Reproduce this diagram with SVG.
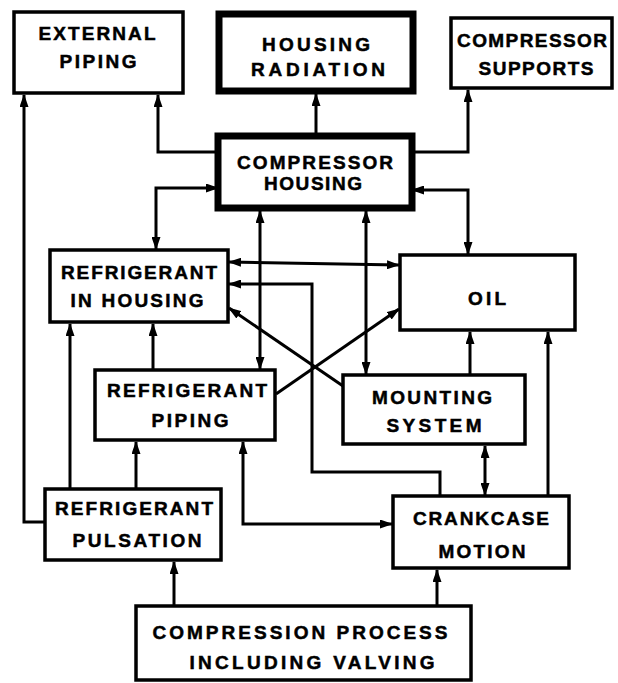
<svg xmlns="http://www.w3.org/2000/svg" width="618" height="683" viewBox="0 0 618 683">
<style>
.box{fill:#fff;stroke:#000;stroke-width:3.5}
.thick{fill:#fff;stroke:#000;stroke-width:7}
.t{font-family:"Liberation Sans",Arial,sans-serif;font-weight:bold;font-size:19px;text-anchor:middle;fill:#000;stroke:#000;stroke-width:0.5}
.c{fill:none;stroke:#000;stroke-width:3}
.e{marker-end:url(#ah)}
.s{marker-start:url(#ah)}
</style>
<defs>
<marker id="ah" viewBox="0 0 13 9" refX="12" refY="4.5" markerWidth="13" markerHeight="9" markerUnits="userSpaceOnUse" orient="auto-start-reverse">
<path d="M0,0 L13,4.5 L0,9 z" fill="#000"/>
</marker>
</defs>
<rect width="618" height="683" fill="#fff"/>
<g id="connectors">
<path class="c e" d="M218,152 H158 V95"/>
<path class="c e" d="M316,136 V94"/>
<path class="c e" d="M412,152 H468 V90"/>
<path class="c e s" d="M218,188 H156 V249"/>
<path class="c e s" d="M412,190 H468 V254"/>
<path class="c e s" d="M260,211 V369"/>
<path class="c e s" d="M366,211 V374"/>
<path class="c e s" d="M229,262 L399,265"/>
<path class="c s" d="M229,284 H312 V472 H440 V496"/>
<path class="c e" d="M343,386 L229,308"/>
<path class="c e" d="M276,394 L399,309"/>
<path class="c e" d="M153,370 V324"/>
<path class="c e" d="M70,488 V324"/>
<path class="c e" d="M136,488 V442"/>
<path class="c e" d="M45,522 H24 V95"/>
<path class="c e s" d="M243,442 V524 H392"/>
<path class="c e s" d="M485,446 V495"/>
<path class="c e" d="M470,375 V332"/>
<path class="c e" d="M548,496 V332"/>
<path class="c e" d="M174,606 V562"/>
<path class="c e" d="M437,606 V570"/>
</g>
<g id="external-piping">
<rect class="box" x="14" y="12" width="169" height="81"/>
<text class="t" x="97" y="39.5" textLength="117" lengthAdjust="spacing">EXTERNAL</text>
<text class="t" x="98" y="67.5" textLength="77" lengthAdjust="spacing">PIPING</text>
</g>
<g id="housing-radiation">
<rect class="thick" x="219" y="14" width="194" height="77"/>
<text class="t" x="316" y="50.5" textLength="108" lengthAdjust="spacing">HOUSING</text>
<text class="t" x="318" y="75.5" textLength="134" lengthAdjust="spacing">RADIATION</text>
</g>
<g id="compressor-supports">
<rect class="box" x="451" y="18" width="161" height="70"/>
<text class="t" x="532" y="47" textLength="150" lengthAdjust="spacing">COMPRESSOR</text>
<text class="t" x="536" y="74.5" textLength="115" lengthAdjust="spacing">SUPPORTS</text>
</g>
<g id="compressor-housing">
<rect class="thick" x="218" y="136" width="194" height="72"/>
<text class="t" x="315" y="168.5" textLength="156" lengthAdjust="spacing">COMPRESSOR</text>
<text class="t" x="313" y="189.5" textLength="98" lengthAdjust="spacing">HOUSING</text>
</g>
<g id="refrigerant-in-housing">
<rect class="box" x="50" y="250" width="178" height="72"/>
<text class="t" x="139" y="278.5" textLength="156" lengthAdjust="spacing">REFRIGERANT</text>
<text class="t" x="137" y="306.5" textLength="133" lengthAdjust="spacing">IN HOUSING</text>
</g>
<g id="oil">
<rect class="box" x="400" y="255" width="175" height="75"/>
<text class="t" x="487" y="305" textLength="38" lengthAdjust="spacing">OIL</text>
</g>
<g id="refrigerant-piping">
<rect class="box" x="95" y="370" width="180" height="70"/>
<text class="t" x="187" y="397" textLength="160" lengthAdjust="spacing">REFRIGERANT</text>
<text class="t" x="190" y="427" textLength="77" lengthAdjust="spacing">PIPING</text>
</g>
<g id="mounting-system">
<rect class="box" x="343" y="375" width="182" height="69"/>
<text class="t" x="432" y="404" textLength="120" lengthAdjust="spacing">MOUNTING</text>
<text class="t" x="434" y="432" textLength="95" lengthAdjust="spacing">SYSTEM</text>
</g>
<g id="refrigerant-pulsation">
<rect class="box" x="45" y="489" width="176" height="71"/>
<text class="t" x="134" y="514.5" textLength="158" lengthAdjust="spacing">REFRIGERANT</text>
<text class="t" x="137" y="547" textLength="129" lengthAdjust="spacing">PULSATION</text>
</g>
<g id="crankcase-motion">
<rect class="box" x="393" y="496" width="176" height="72"/>
<text class="t" x="481" y="525" textLength="136" lengthAdjust="spacing">CRANKCASE</text>
<text class="t" x="482" y="558" textLength="87" lengthAdjust="spacing">MOTION</text>
</g>
<g id="compression-process">
<rect class="box" x="136" y="606" width="335" height="74"/>
<text class="t" x="300" y="639" textLength="295" lengthAdjust="spacing">COMPRESSION PROCESS</text>
<text class="t" x="312" y="669" textLength="245" lengthAdjust="spacing">INCLUDING VALVING</text>
</g>
</svg>
